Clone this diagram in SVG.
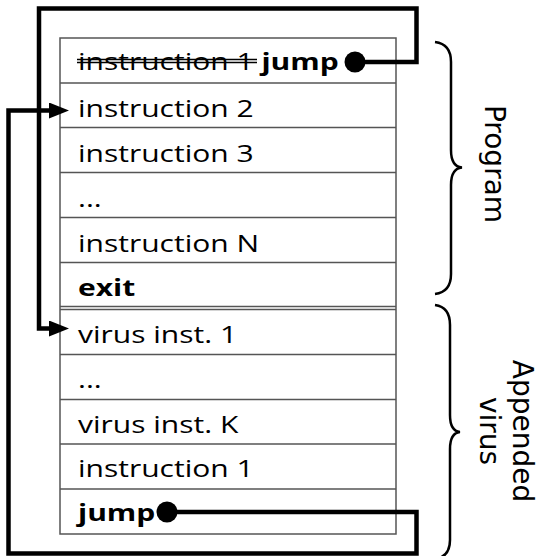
<svg xmlns="http://www.w3.org/2000/svg" width="538" height="556" viewBox="0 0 538 556">
<style>
.bg{fill:#fff}
.grid{stroke:#555;stroke-width:1.5;fill:none}
.t{font-family:"Open Sans","Liberation Sans",sans-serif;font-size:24px;fill:#000}
.b{font-weight:bold}
.conn{stroke:#000;stroke-width:4.5;fill:none;stroke-linejoin:miter}
.brace{stroke:#000;stroke-width:2.5;fill:none}
.lbl{font-family:"DejaVu Sans","Liberation Sans",sans-serif;font-size:28px;fill:#000;text-anchor:middle}
.strike{stroke:#000;stroke-width:1.5}
</style>
<defs>
<marker id="arrow" markerUnits="userSpaceOnUse" viewBox="0 0 20 16" refX="6" refY="8" markerWidth="20" markerHeight="16" orient="auto">
<path d="M0,0 L20,8 L0,16 z" fill="#000"/>
</marker>
<marker id="dot" markerUnits="userSpaceOnUse" viewBox="0 0 22 22" refX="11" refY="11" markerWidth="22" markerHeight="22" orient="auto">
<circle cx="11" cy="11" r="10.5" fill="#000"/>
</marker>
</defs>
<rect class="bg" x="0" y="0" width="538" height="556"/>

<g id="memory">
<rect class="grid" x="60" y="38" width="336" height="496"/>
<g id="row0">
<text class="t" transform="translate(78,70) scale(1.25,1)">instruction 1<tspan class="b"> jump</tspan></text>
<line class="strike" x1="77" y1="59.5" x2="257" y2="59.5"/>
<line class="strike" x1="77" y1="62.5" x2="257" y2="62.5"/>
</g>
<line class="grid" x1="60" y1="83" x2="396" y2="83"/>
<g id="row1"><text class="t" transform="translate(78,117) scale(1.25,1)">instruction 2</text></g>
<line class="grid" x1="60" y1="127.5" x2="396" y2="127.5"/>
<g id="row2"><text class="t" transform="translate(78,161.5) scale(1.25,1)">instruction 3</text></g>
<line class="grid" x1="60" y1="172.5" x2="396" y2="172.5"/>
<g id="row3"><text class="t" transform="translate(78,206.5) scale(1.25,1)">...</text></g>
<line class="grid" x1="60" y1="217.5" x2="396" y2="217.5"/>
<g id="row4"><text class="t" transform="translate(78,251.5) scale(1.25,1)">instruction N</text></g>
<line class="grid" x1="60" y1="262.5" x2="396" y2="262.5"/>
<g id="row5"><text class="t b" transform="translate(78,295.5) scale(1.25,1)">exit</text></g>
<line class="grid" x1="60" y1="306.5" x2="396" y2="306.5"/>
<line class="grid" x1="60" y1="309.5" x2="396" y2="309.5"/>
<g id="row6"><text class="t" transform="translate(78,342.5) scale(1.25,1)">virus inst. 1</text></g>
<line class="grid" x1="60" y1="354.5" x2="396" y2="354.5"/>
<g id="row7"><text class="t" transform="translate(78,388) scale(1.25,1)">...</text></g>
<line class="grid" x1="60" y1="399.5" x2="396" y2="399.5"/>
<g id="row8"><text class="t" transform="translate(78,433) scale(1.25,1)">virus inst. K</text></g>
<line class="grid" x1="60" y1="444" x2="396" y2="444"/>
<g id="row9"><text class="t" transform="translate(78,477) scale(1.25,1)">instruction 1</text></g>
<line class="grid" x1="60" y1="489" x2="396" y2="489"/>
<g id="row10"><text class="t b" transform="translate(78,520.5) scale(1.25,1)">jump</text></g>
</g>

<g id="connectors">
<path class="conn" d="M355,62 H416.5 V8.5 H39 V328.5 H55" marker-start="url(#dot)" marker-end="url(#arrow)"/>
<path class="conn" d="M167,512 H416.5 V553.5 H8.5 V110.5 H55" marker-start="url(#dot)" marker-end="url(#arrow)"/>
</g>

<g id="program">
<path class="brace" d="M435,42 Q451,44 451,62 L451,150 Q451,166.5 462,167.5 Q451,168.5 451,185 L451,274 Q451,292 435,294"/>
<text class="lbl" transform="translate(485,164) rotate(90)">Program</text>
</g>

<g id="appended-virus">
<path class="brace" d="M435,305 Q450,307 450,325 L450,415 Q450,431 460,432 Q450,433 450,449 L450,540 Q450,557 435,559"/>
<text class="lbl" transform="translate(513,431) rotate(90)">Appended</text>
<text class="lbl" transform="translate(480,431) rotate(90)">virus</text>
</g>
</svg>
